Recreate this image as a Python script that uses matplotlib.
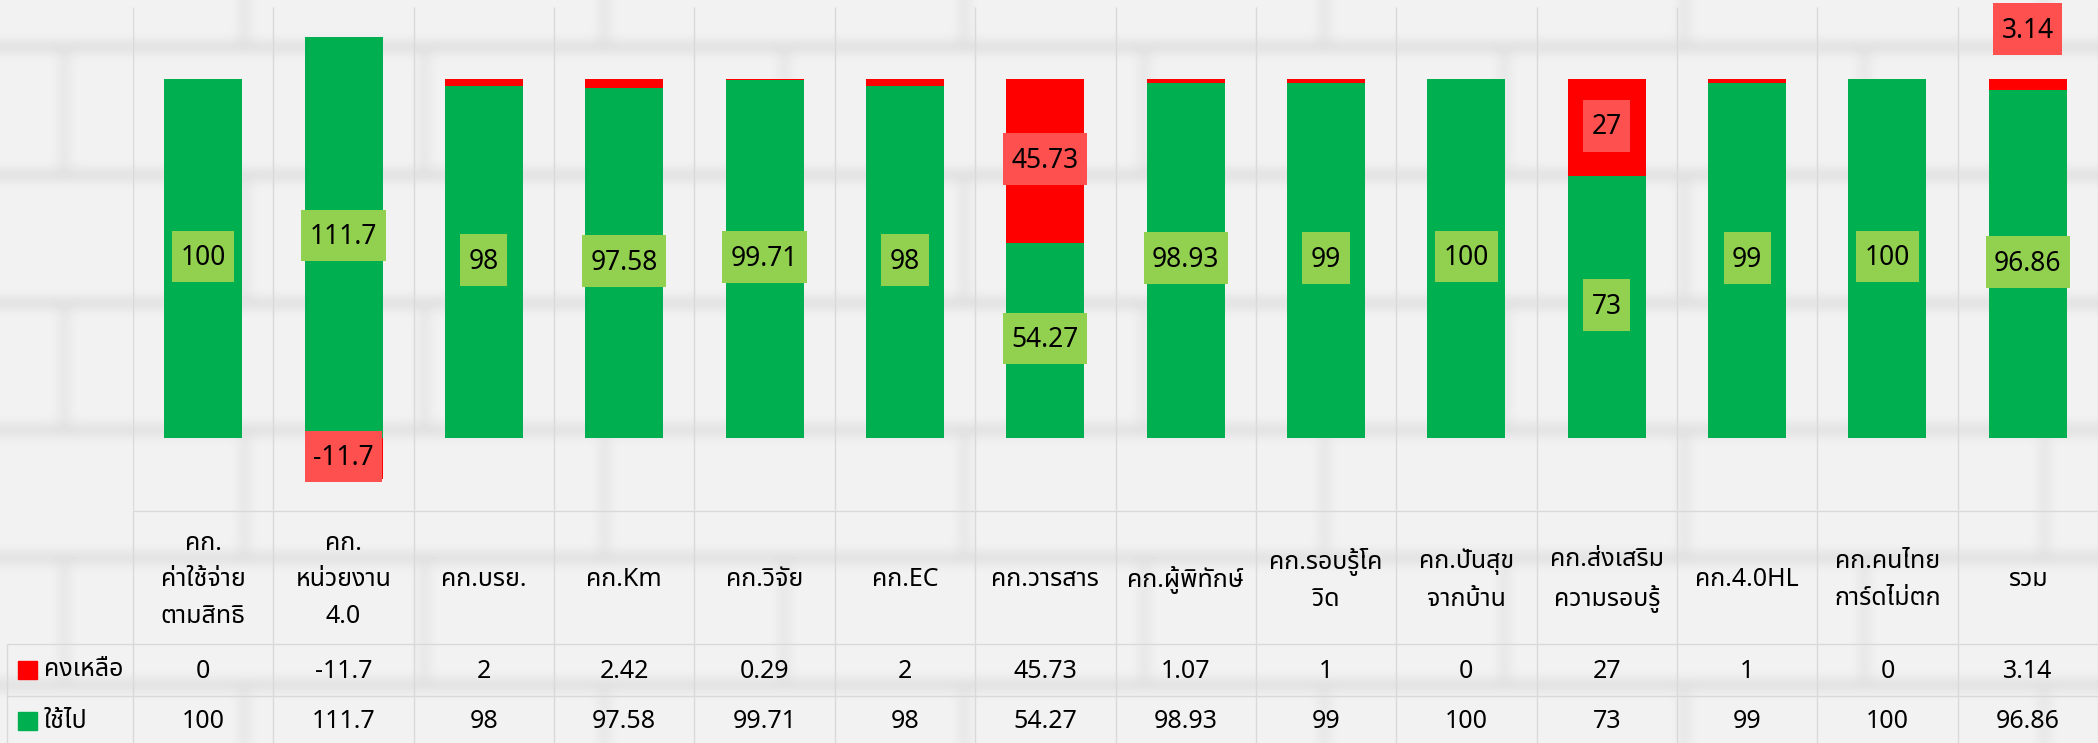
import numpy as np
import matplotlib
matplotlib.use("Agg")
import matplotlib.pyplot as plt
import matplotlib.font_manager as fm
from matplotlib.ft2font import FT2Font
from matplotlib.path import Path
from matplotlib.patches import Rectangle

# ---------------- data ----------------
categories = ['คก.\nค่าใช้จ่าย\nตามสิทธิ', 'คก.\nหน่วยงาน\n4.0', 'คก.บรย.', 'คก.Km',
              'คก.วิจัย', 'คก.EC', 'คก.วารสาร', 'คก.ผู้พิทักษ์', 'คก.รอบรู้โค\nวิด',
              'คก.ปันสุข\nจากบ้าน', 'คก.ส่งเสริม\nความรอบรู้', 'คก.4.0HL',
              'คก.คนไทย\nการ์ดไม่ตก', 'รวม']
used = [100, 111.7, 98, 97.58, 99.71, 98, 54.27, 98.93, 99, 100, 73, 99, 100, 96.86]
remain = [0, -11.7, 2, 2.42, 0.29, 2, 45.73, 1.07, 1, 0, 27, 1, 0, 3.14]
series_names = ['คงเหลือ', 'ใช้ไป']

# ---------------- fonts ----------------
def find_thai():
    prefs = ['Tahoma', 'Noto Sans Thai', 'Noto Sans Thai UI', 'Noto Sans Thai Looped',
             'Leelawadee UI', 'Sarabun', 'Loma', 'Garuda', 'Waree', 'Umpush',
             'Kinnari', 'Norasi', 'Laksaman']
    found = {}
    for f in fm.fontManager.ttflist:
        try:
            cmap = FT2Font(f.fname).get_charmap()
        except Exception:
            continue
        if 0x0E04 in cmap and 0x0E01 in cmap and 0x0E40 in cmap:
            found.setdefault(f.name, f.fname)
    for p in prefs:
        if p in found:
            return p
    return sorted(found)[0] if found else None

thai = find_thai()
families = ['Noto Sans'] + ([thai] if thai else []) + ['DejaVu Sans']
plt.rcParams['font.family'] = families

# ---------------- styling ----------------
GREEN = '#00B050'
RED = '#FF0000'
LBL_G = '#92D050'
LBL_R = '#FF5050'
GRID = '#D9D9D9'

W, H = 2098, 743
fig = plt.figure(figsize=(W / 100, H / 100), dpi=100)

# background brick texture (decorative)
yy = np.arange(H)[:, None]
xx = np.arange(W)[None, :]
row_h = 127.6
y0 = 47
rowidx = np.floor((yy - y0) / row_h)
hmask = np.abs(((yy - y0 + 5) % row_h)) < 10
brick_w = 360
offset = (rowidx % 2) * brick_w / 2 + 300
vmask = ((xx + offset) % brick_w) < 9
tex = 0.948 - 0.085 * hmask.astype(float) - 0.06 * (vmask & ~hmask).astype(float)
k = 11
ker = np.ones(k) / k
half = k // 2
for _ in range(3):
    tp = np.pad(tex, ((0, 0), (half, half)), mode='edge')
    tex = np.apply_along_axis(lambda r: np.convolve(r, ker, mode='valid'), 1, tp)
    tp = np.pad(tex, ((half, half), (0, 0)), mode='edge')
    tex = np.apply_along_axis(lambda c: np.convolve(c, ker, mode='valid'), 0, tp)
bg = fig.add_axes([0, 0, 1, 1], zorder=-10)
bg.imshow(tex, cmap='gray', vmin=0, vmax=1, aspect='auto', interpolation='bilinear')
bg.axis('off')

# geometry (pixels)
LEFT = 133
COLW = (W - LEFT) / 14
ZERO_Y = 437.5
PX_PER = 3.584
TOP = 7
AX_BOT = 510
ymax = (ZERO_Y - TOP) / PX_PER
ymin = (ZERO_Y - AX_BOT) / PX_PER

ax = fig.add_axes([LEFT / W, 1 - AX_BOT / H, 1 - LEFT / W, (AX_BOT - TOP) / H])
ax.set_facecolor('none')
ax.set_xlim(-0.5, 13.5)
ax.set_ylim(ymin, ymax)
ax.axis('off')

x = np.arange(len(categories))
used_a = np.array(used)
rem_a = np.array(remain)
bw = 78 / COLW
ax.bar(x, used_a, width=bw, color=GREEN, zorder=3, label=series_names[1])
rem_bottom = np.where(rem_a >= 0, used_a, 0)
ax.bar(x, rem_a, bottom=rem_bottom, width=bw, color=RED, zorder=3, label=series_names[0])

bounds = np.arange(-0.5, 14.0, 1.0)
ax.vlines(bounds, 0, 1, transform=ax.get_xaxis_transform(), color=GRID, lw=1.0, zorder=1)


def make_box(padx, pad_bottom, pad_top):
    def box(x0, y0, width, height, mutation_size):
        px = padx * mutation_size
        x0 -= px
        y1 = y0 + height + pad_top * mutation_size
        y0 -= pad_bottom * mutation_size
        x1 = x0 + width + 2 * px
        return Path([(x0, y0), (x1, y0), (x1, y1), (x0, y1), (x0, y0)], closed=True)
    return box


lbl_box = make_box(0.32, 0.38, 0.52)
FS = 19
for i in range(len(x)):
    ax.text(x[i], used_a[i] / 2, f'{used_a[i]:g}', ha='center', va='center', fontsize=FS,
            color='black', zorder=5,
            bbox=dict(boxstyle=lbl_box, fc=LBL_G, ec='none'))
    r = rem_a[i]
    if abs(r) >= 3:
        if i == len(x) - 1:
            yl = used_a[i] + r + 13.4
        else:
            yl = rem_bottom[i] + r / 2
        ax.text(x[i], yl, f'{r:g}', ha='center', va='center', fontsize=FS,
                color='black', zorder=6,
                bbox=dict(boxstyle=lbl_box, fc=LBL_R, ec='none'))

# ---------------- data table ----------------
axt = fig.add_axes([0, 0, 1, (H - AX_BOT) / H])
axt.set_facecolor('none')
xl = -0.5 - LEFT / COLW
axt.set_xlim(xl, 13.5)
axt.set_ylim(H, AX_BOT)
axt.axis('off')


def px2x(px):
    return -0.5 + (px - LEFT) / COLW


ROW1, ROW2, BOT = 644, 696, 750
axt.vlines(bounds, AX_BOT, BOT, color=GRID, lw=1.0, zorder=1)
axt.vlines([px2x(7)], ROW1, BOT, color=GRID, lw=1.0, zorder=1)
axt.hlines([AX_BOT + 0.5], -0.5, 13.5, color=GRID, lw=1.0, zorder=1)
axt.hlines([ROW1, ROW2], px2x(7), 13.5, color=GRID, lw=1.0, zorder=1)

TFS = 18
for i, c in enumerate(categories):
    axt.text(x[i], 580, c, ha='center', va='center', fontsize=TFS, linespacing=1.62)
    axt.text(x[i], 671, f'{rem_a[i]:g}', ha='center', va='center', fontsize=TFS)
    axt.text(x[i], 722, f'{used_a[i]:g}', ha='center', va='center', fontsize=TFS)

for yc, col, name in [(670, RED, series_names[0]), (721, GREEN, series_names[1])]:
    axt.add_patch(Rectangle((px2x(18), yc - 9), 19 / COLW, 18, color=col, zorder=3))
    axt.text(px2x(44), yc, name, ha='left', va='center', fontsize=TFS)

fig.savefig('out.png', dpi=100)
